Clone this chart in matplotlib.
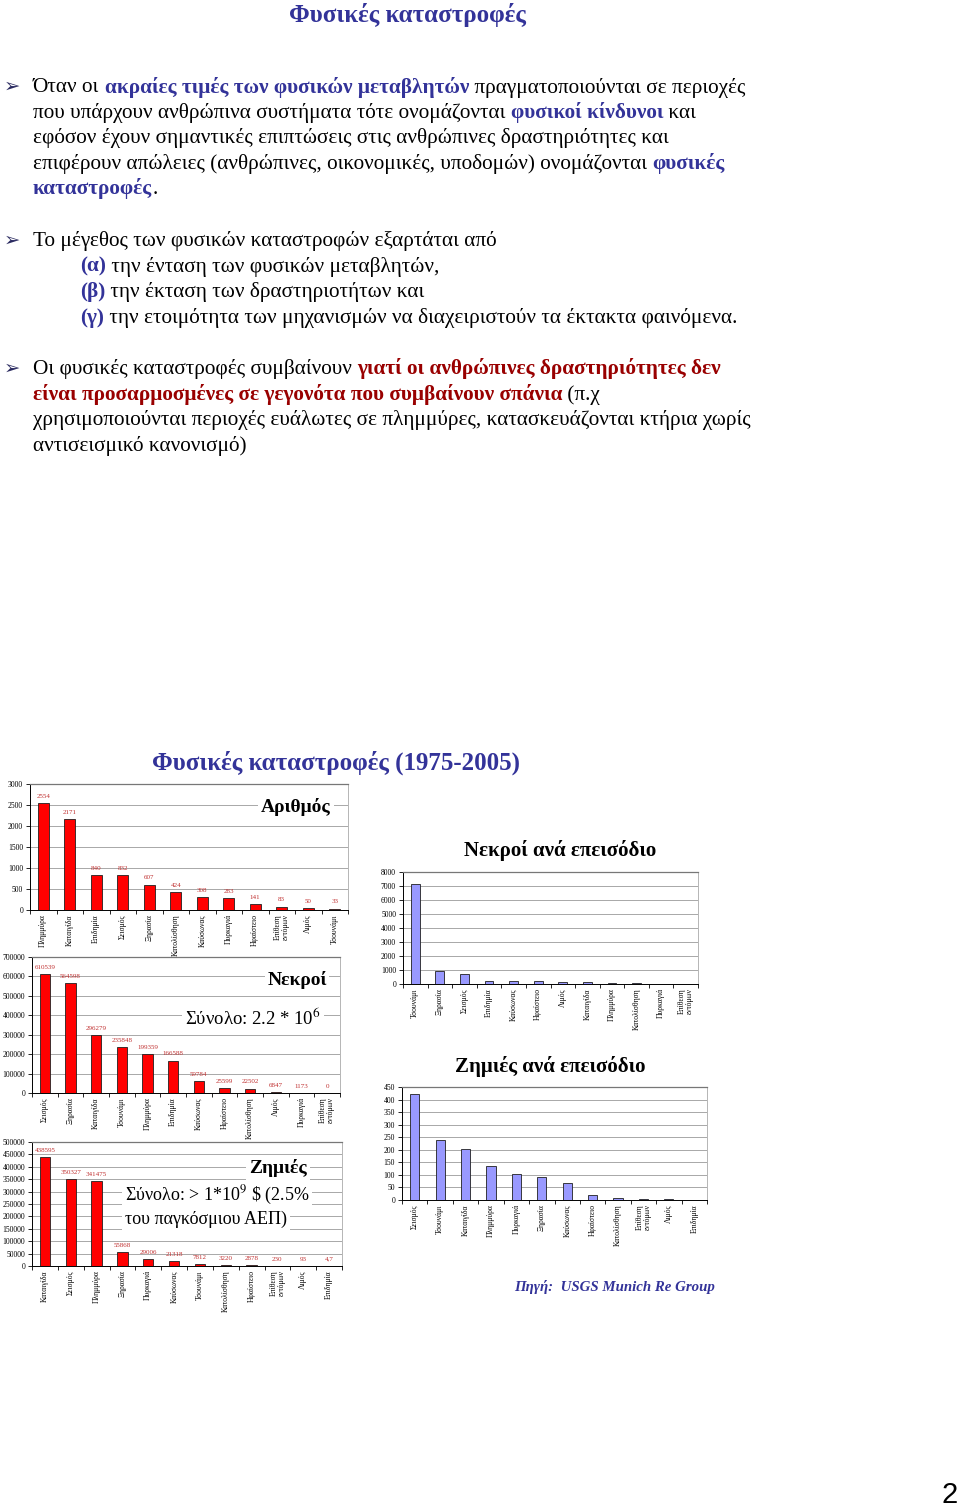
import matplotlib
matplotlib.use("Agg")
import matplotlib.pyplot as plt
import numpy as np

plt.rcParams['font.family'] = ['Liberation Serif', 'DejaVu Sans']
plt.rcParams['mathtext.fontset'] = 'stix'

W, H = 960, 1506

# chart data
count_cats = ['Πλημμύρα', 'Καταιγίδα', 'Επιδημία', 'Σεισμός', 'Ξηρασία', 'Κατολίσθηση',
              'Καύσωνας', 'Πυρκαγιά', 'Ηφαίστειο', 'Επίθεση\nεντόμων', 'Λιμός', 'Τσουνάμι']
count_vals = [2554, 2171, 840, 832, 607, 424, 308, 283, 141, 83, 50, 33]
count_labels = [str(v) for v in count_vals]

death_cats = ['Σεισμός', 'Ξηρασία', 'Καταιγίδα', 'Τσουνάμι', 'Πλημμύρα', 'Επιδημία',
              'Καύσωνας', 'Ηφαίστειο', 'Κατολίσθηση', 'Λιμός', 'Πυρκαγιά', 'Επίθεση\nεντόμων']
death_vals = [610539, 564598, 296279, 235848, 199359, 166588, 59784, 25599, 22502, 6847, 1173, 0]
death_labels = [str(v) for v in death_vals]

loss_cats = ['Καταιγίδα', 'Σεισμός', 'Πλημμύρα', 'Ξηρασία', 'Πυρκαγιά', 'Καύσωνας',
             'Τσουνάμι', 'Κατολίσθηση', 'Ηφαίστειο', 'Επίθεση\nεντόμων', 'Λιμός', 'Επιδημία']
loss_vals = [438595, 350327, 341475, 55868, 29006, 21318, 7812, 3220, 2878, 230, 93, 4.7]
loss_labels = ['438595', '350327', '341475', '55868', '29006', '21318', '7812', '3220',
               '2878', '230', '93', '4,7']

dpe_cats = ['Τσουνάμι', 'Ξηρασία', 'Σεισμός', 'Επιδημία', 'Καύσωνας', 'Ηφαίστειο', 'Λιμός',
            'Καταιγίδα', 'Πλημμύρα', 'Κατολίσθηση', 'Πυρκαγιά', 'Επίθεση\nεντόμων']
dpe_vals = [7147, 930, 734, 198, 194, 182, 137, 136, 78, 53, 4, 0]

lpe_cats = ['Σεισμός', 'Τσουνάμι', 'Καταιγίδα', 'Πλημμύρα', 'Πυρκαγιά', 'Ξηρασία', 'Καύσωνας',
            'Ηφαίστειο', 'Κατολίσθηση', 'Επίθεση\nεντόμων', 'Λιμός', 'Επιδημία']
lpe_vals = [421, 237, 202, 134, 102, 92, 69, 20, 8, 3, 2, 0]

BLUE = '#333399'
RED = '#990000'

fig = plt.figure(figsize=(W / 100, H / 100), dpi=100)
fig.patch.set_facecolor('white')
renderer = fig.canvas.get_renderer()


def fx(x):
    return x / W


def fy(y):
    return 1 - y / H


def width_px(s, **kw):
    t1 = fig.text(0, 0, '|' + s + '|', **kw)
    t2 = fig.text(0, 0, '||', **kw)
    w = t1.get_window_extent(renderer).width - t2.get_window_extent(renderer).width
    t1.remove()
    t2.remove()
    return w


BODY = 15.3
N = dict(size=BODY, color='black')
B = dict(size=BODY, color=BLUE, weight='bold')
R = dict(size=BODY, color=RED, weight='bold')


def rich_line(x, y, segs):
    for s, st in segs:
        fig.text(fx(x), fy(y), s, va='baseline', ha='left', **st)
        x += width_px(s, **st)


def bullet(y):
    fig.text(fx(4), fy(y), '➢', family='DejaVu Sans', size=14, color='#2a2a60', va='baseline')


# page title
fig.text(fx(407), fy(22), 'Φυσικές καταστροφές', size=18, weight='bold', color=BLUE,
         ha='center', va='baseline')

para1 = [
    [("Όταν οι ", N), ("ακραίες τιμές των φυσικών μεταβλητών", B), (" πραγματοποιούνται σε περιοχές", N)],
    [("που υπάρχουν ανθρώπινα συστήματα τότε ονομάζονται ", N), ("φυσικοί κίνδυνοι", B), (" και", N)],
    [("εφόσον έχουν σημαντικές επιπτώσεις στις ανθρώπινες δραστηριότητες και", N)],
    [("επιφέρουν απώλειες (ανθρώπινες, οικονομικές, υποδομών) ονομάζονται ", N), ("φυσικές", B)],
    [("καταστροφές", B), (".", N)],
]
para2 = [
    (33, [("Το μέγεθος των φυσικών καταστροφών εξαρτάται από", N)]),
    (80, [("(α)", B), (" την ένταση των φυσικών μεταβλητών,", N)]),
    (80, [("(β)", B), (" την έκταση των δραστηριοτήτων και", N)]),
    (80, [("(γ)", B), (" την ετοιμότητα των μηχανισμών να διαχειριστούν τα έκτακτα φαινόμενα.", N)]),
]
para3 = [
    [("Οι φυσικές καταστροφές συμβαίνουν ", N), ("γιατί οι ανθρώπινες δραστηριότητες δεν", R)],
    [("είναι προσαρμοσμένες σε γεγονότα που συμβαίνουν σπάνια", R), (" (π.χ", N)],
    [("χρησιμοποιούνται περιοχές ευάλωτες σε πλημμύρες, κατασκευάζονται κτήρια χωρίς", N)],
    [("αντισεισμικό κανονισμό)", N)],
]

bullet(92)
for i, segs in enumerate(para1):
    rich_line(33, 92.5 + 25.4 * i, segs)
bullet(246)
for i, (x, segs) in enumerate(para2):
    rich_line(x, 246 + 25.6 * i, segs)
bullet(374)
for i, segs in enumerate(para3):
    rich_line(33, 374 + 25.6 * i, segs)

# charts title
fig.text(fx(336), fy(770), 'Φυσικές καταστροφές (1975-2005)', size=18, weight='bold',
         color=BLUE, ha='center', va='baseline')


def bar_axes(box, cats, vals, ymax, step, color, width, labels=None):
    x0, y0, x1, y1 = box
    ax = fig.add_axes([fx(x0), fy(y1), fx(x1 - x0), (y1 - y0) / H])
    x = np.arange(len(cats))
    ax.bar(x, vals, width=width, color=color, edgecolor='#202020', linewidth=0.6, zorder=3)
    ax.set_xlim(-0.5, len(cats) - 0.5)
    ax.set_ylim(0, ymax)
    ticks = np.arange(0, ymax + step, step)
    ax.set_yticks(ticks)
    ax.set_yticklabels([str(int(t)) for t in ticks], fontsize=5.5)
    ax.set_xticks(x)
    ax.set_xticklabels(cats, rotation=90, fontsize=5.5, va='top', ha='center',
                       linespacing=1.0)
    ax.set_xticks(np.arange(len(cats) + 1) - 0.5, minor=True)
    ax.tick_params(axis='x', which='major', length=0, pad=3)
    ax.tick_params(axis='x', which='minor', length=3, width=0.6, direction='out')
    ax.tick_params(axis='y', length=3, width=0.6, pad=2)
    ax.grid(axis='y', color='#9a9a9a', linewidth=0.6, zorder=0)
    for sp in ['left', 'bottom']:
        ax.spines[sp].set_linewidth(0.7)
    ax.spines['top'].set_color('#777777')
    ax.spines['top'].set_linewidth(0.9)
    ax.spines['right'].set_color('#aaaaaa')
    ax.spines['right'].set_linewidth(0.6)
    ax.set_facecolor('white')
    if labels is not None:
        for xi, v, lab in zip(x, vals, labels):
            ax.annotate(lab, (xi, v), xytext=(0, 3), textcoords='offset points',
                        ha='center', va='bottom', fontsize=5, color='#c03030', zorder=4)
    return ax


ax1 = bar_axes((30, 784, 348, 910), count_cats, count_vals, 3000, 500, '#ff0000', 0.4, count_labels)
ax2 = bar_axes((32, 957, 340, 1093), death_cats, death_vals, 700000, 100000, '#ff0000', 0.4, death_labels)
ax3 = bar_axes((32, 1142, 342, 1266), loss_cats, loss_vals, 500000, 50000, '#ff0000', 0.4, loss_labels)
ax4 = bar_axes((403, 872, 698, 984), dpe_cats, dpe_vals, 8000, 1000, '#9999ff', 0.36)
ax5 = bar_axes((402, 1087, 707, 1200), lpe_cats, lpe_vals, 450, 50, '#9999ff', 0.36)

box = dict(facecolor='white', edgecolor='none', pad=2)
fig.text(fx(296), fy(812), 'Αριθμός', size=14, weight='bold', ha='center', va='baseline', bbox=box)
fig.text(fx(297), fy(985), 'Νεκροί', size=14, weight='bold', ha='center', va='baseline', bbox=box)
fig.text(fx(185), fy(1025), 'Σύνολο: 2.2 * 10$^6$', size=13.5, ha='left', va='baseline', bbox=box)
fig.text(fx(278), fy(1173), 'Ζημιές', size=14, weight='bold', ha='center', va='baseline', bbox=box)
fig.text(fx(125), fy(1200), 'Σύνολο: > 1*10$^9$ \\$ (2.5%', size=13, ha='left', va='baseline', bbox=box)
fig.text(fx(125), fy(1224), 'του παγκόσμιου ΑΕΠ)', size=13, ha='left', va='baseline', bbox=box)

fig.text(fx(560), fy(856), 'Νεκροί ανά επεισόδιο', size=15, weight='bold', ha='center', va='baseline')
fig.text(fx(550), fy(1072), 'Ζημιές ανά επεισόδιο', size=15, weight='bold', ha='center', va='baseline')

fig.text(fx(514), fy(1291), 'Πηγή:  USGS Munich Re Group', size=10.7, weight='bold', style='italic',
         color=BLUE, ha='left', va='baseline')

fig.text(fx(958), fy(1503), '2', size=21, family='Liberation Sans', ha='right', va='baseline')

fig.savefig('out.png', dpi=100)
